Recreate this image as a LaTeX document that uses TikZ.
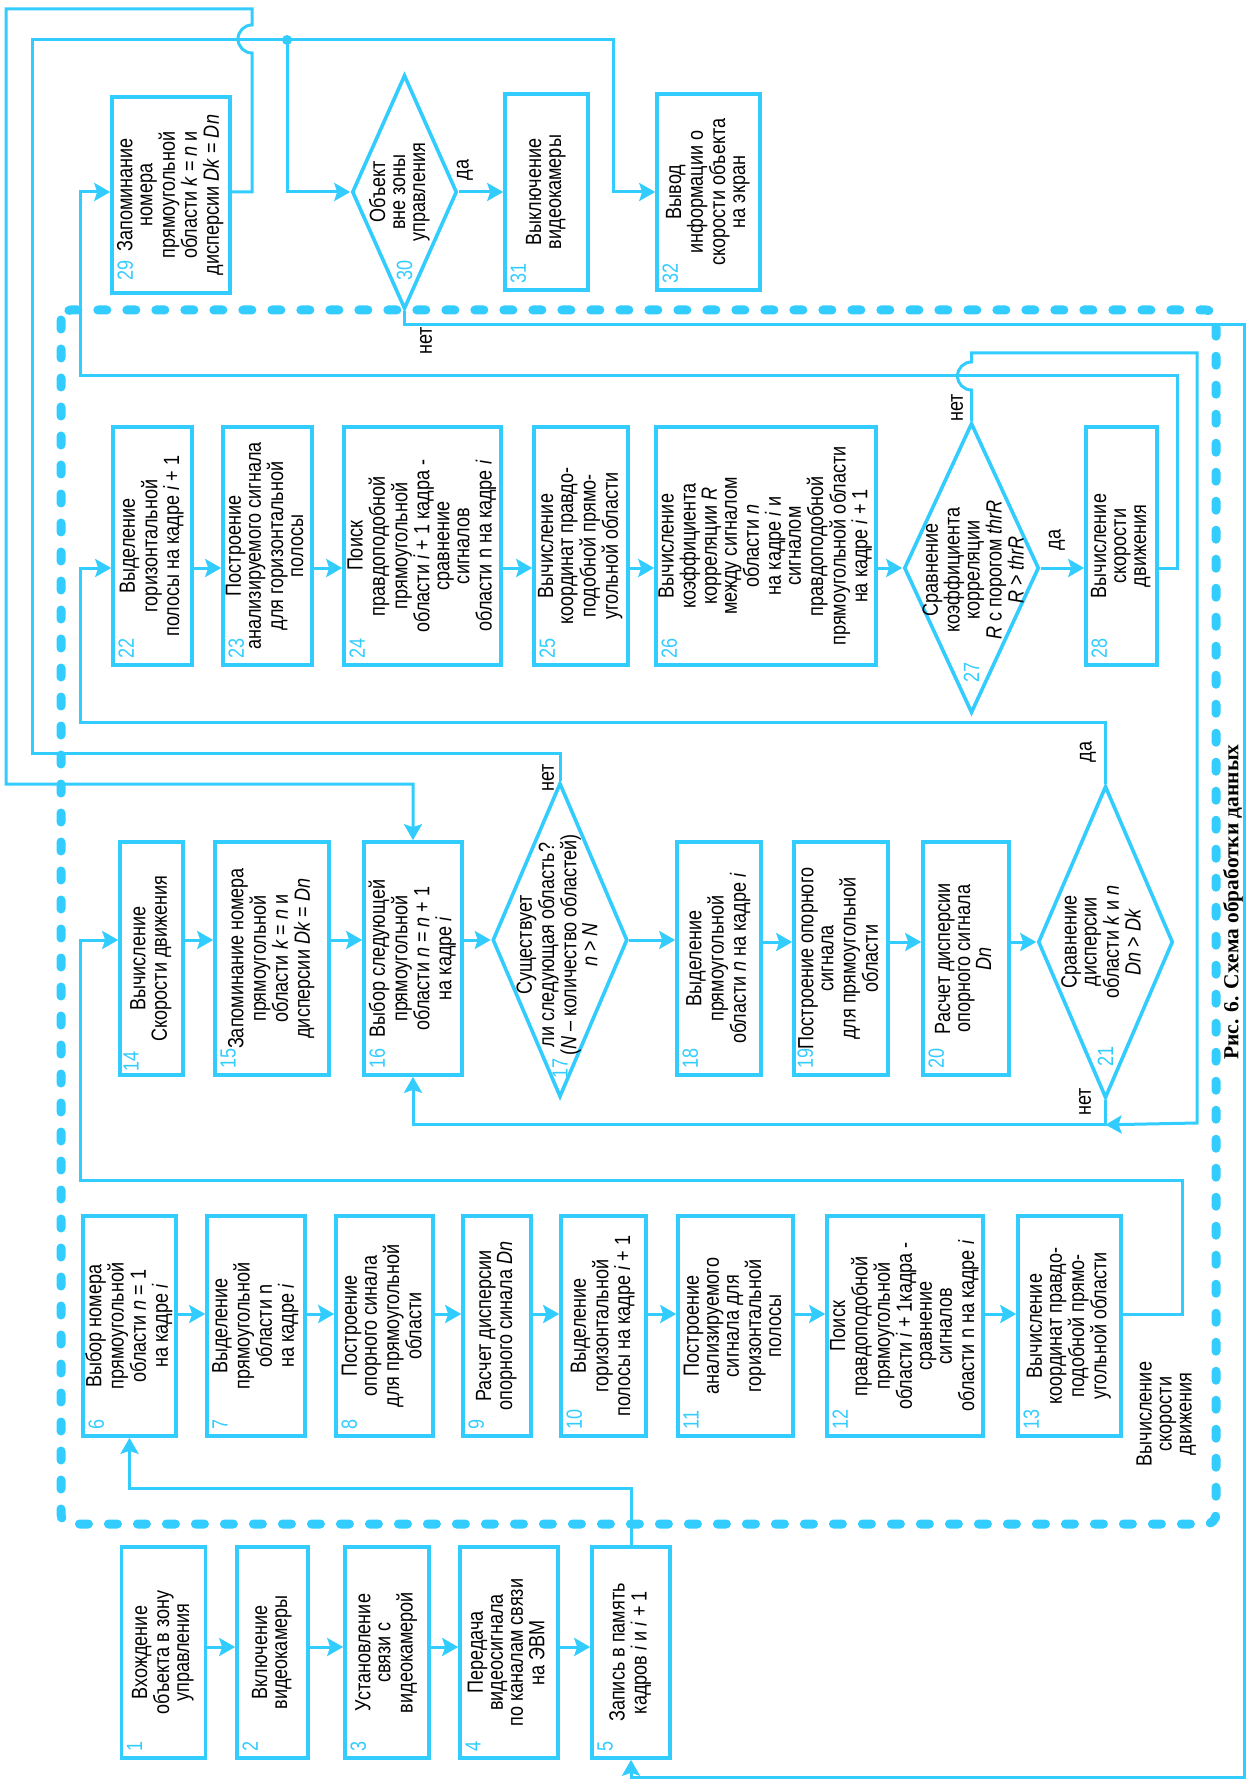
\documentclass[tikz,border=0pt]{standalone}
\usepackage{fontspec}
\setmainfont{Liberation Sans}[FakeStretch=0.82]
\newfontfamily\capfont{Liberation Serif}
\usepackage{graphicx}
\usepackage{tikz}
\usetikzlibrary{arrows.meta,shapes.geometric,calc}
\definecolor{flowblue}{RGB}{51,204,255}
\newcommand{\vtext}[1]{\rotatebox{90}{\begin{tabular}{@{}c@{}}#1\end{tabular}}}
\tikzset{
  box/.style={
    draw=flowblue,
    line width=1.8pt,
    inner sep=1pt,
    font=\fontsize{11}{10}\selectfont
  },
  decision/.style={diamond, draw=flowblue, line width=1.8pt, inner sep=0pt},
  txt/.style={inner sep=0pt, font=\fontsize{11}{10}\selectfont},
  num/.style={txt, text=flowblue},
  wire/.style={draw=flowblue, line width=1.5pt},
  arrow/.style={wire, -{Stealth[length=8pt, width=9pt, inset=1.5pt]}},
  frame/.style={draw=flowblue, line width=4.5pt, line cap=round,
    dash pattern=on 4.5pt off 10pt, rounded corners=5pt}
}

\begin{document}
\begin{tikzpicture}[x=0.5pt, y=-0.5pt]
  \useasboundingbox (0,0) rectangle (1248,1780);
  \draw[frame] (61,310) rectangle (1216,1524);

  % row 5 (top)
  \node[box, minimum width=59pt, minimum height=98pt] (b29) at (171,195) {\vtext{Запоминание\\номера\\прямоугольной\\области \textit{k} = \textit{n} и\\дисперсии \textit{Dk} = \textit{Dn}}};
  \node[decision, minimum width=52.5pt, minimum height=117pt] (d30) at (404.5,192) {};
  \node[txt] (t30) at (400,192) {\vtext{Объект\\вне зоны\\управления}};
  \node[box, minimum width=41.5pt, minimum height=98pt] (b31) at (546.5,192) {\vtext{Выключение\\видеокамеры}};
  \node[box, minimum width=51.5pt, minimum height=98pt] (b32) at (708.5,192) {\vtext{Вывод\\информации о\\скорости объекта\\на экран}};

  % row 4
  \node[box, minimum width=39.5pt, minimum height=119pt] (b22) at (152.5,546) {\vtext{Выделение\\горизонтальной\\полосы на кадре \textit{i} + 1}};
  \node[box, minimum width=44.5pt, minimum height=119pt] (b23) at (267.5,546) {\vtext{Построение\\анализируемого сигнала\\для горизонтальной\\полосы}};
  \node[box, minimum width=78.5pt, minimum height=119pt] (b24) at (422.5,546) {\vtext{Поиск\\правдоподобной\\прямоугольной\\области \textit{i} + 1 кадра -\\сравнение\\сигналов\\области n на кадре \textit{i}}};
  \node[box, minimum width=47pt, minimum height=119pt] (b25) at (581,546) {\vtext{Вычисление\\координат правдо-\\подобной  прямо-\\угольной области}};
  \node[box, minimum width=110pt, minimum height=119pt] (b26) at (766,546) {\vtext{Вычисление\\коэффициента\\корреляции \textit{R}\\между сигналом\\области \textit{n}\\на кадре \textit{i}  и\\сигналом\\правдоподобной\\прямоугольной области\\на кадре \textit{i} + 1}};
  \node[decision, minimum width=67.5pt, minimum height=145pt] (d27) at (971.5,568) {};
  \node[txt] (t27) at (976,570) {\vtext{Сравнение\\коэффициента\\корреляции\\\textit{R} с порогом \textit{thrR}\\\textit{R} > \textit{thrR}}};
  \node[box, minimum width=35.5pt, minimum height=119pt] (b28) at (1121.5,546) {\vtext{Вычисление\\скорости\\движения}};

  % row 3
  \node[box, minimum width=31.5pt, minimum height=116.5pt] (b14) at (151.5,958.5) {\vtext{Вычисление\\Скорости движения}};
  \node[box, minimum width=57pt, minimum height=116.5pt] (b15) at (272,958.5) {\vtext{Запоминание номера\\прямоугольной\\области \textit{k} = \textit{n} и\\дисперсии \textit{Dk} = \textit{Dn}}};
  \node[box, minimum width=49pt, minimum height=116.5pt] (b16) at (413,958.5) {\vtext{Выбор следующей\\прямоугольной\\области \textit{n} = \textit{n} + 1\\на кадре \textit{i}}};
  \node[decision, minimum width=67.5pt, minimum height=157pt] (d17) at (560,940) {};
  \node[txt] (t17) at (560,945) {\vtext{Существует\\ли следующая область?\\(\textit{N} – количество областей)\\\textit{n} > \textit{N}}};
  \node[box, minimum width=42pt, minimum height=116.5pt] (b18) at (719,958.5) {\vtext{Выделение\\прямоугольной\\области \textit{n} на кадре \textit{i}}};
  \node[box, minimum width=47pt, minimum height=116.5pt] (b19) at (841,958.5) {\vtext{Построение опорного\\сигнала\\для прямоугольной\\области}};
  \node[box, minimum width=43pt, minimum height=116.5pt] (b20) at (966,958.5) {\vtext{Расчет дисперсии\\опорного сигнала\\\textit{Dn}}};
  \node[decision, minimum width=67.5pt, minimum height=156pt] (d21) at (1105.5,942) {};
  \node[txt] (t21) at (1104,942) {\vtext{Сравнение\\дисперсии\\области \textit{k} и \textit{n}\\\textit{Dn} > \textit{Dk}}};

  % row 2
  \node[box, minimum width=46.5pt, minimum height=110pt] (b6) at (129.5,1326) {\vtext{Выбор номера\\прямоугольной\\области \textit{n} = 1\\на кадре \textit{i}}};
  \node[box, minimum width=49pt, minimum height=110pt] (b7) at (256,1326) {\vtext{Выделение\\прямоугольной\\области n\\на кадре \textit{i}}};
  \node[box, minimum width=48.5pt, minimum height=110pt] (b8) at (384.5,1326) {\vtext{Построение\\опорного синала\\для прямоугольной\\области}};
  \node[box, minimum width=34pt, minimum height=110pt] (b9) at (497,1326) {\vtext{Расчет дисперсии\\опорного синала \textit{Dn}}};
  \node[box, minimum width=42.5pt, minimum height=110pt] (b10) at (603.5,1326) {\vtext{Выделение\\горизонтальной\\полосы на кадре \textit{i} + 1}};
  \node[box, minimum width=57.5pt, minimum height=110pt] (b11) at (735.5,1326) {\vtext{Построение\\анализируемого\\сигнала для\\горизонтальной\\полосы}};
  \node[box, minimum width=78pt, minimum height=110pt] (b12) at (905,1326) {\vtext{Поиск\\правдоподобной\\прямоугольной\\области \textit{i} + 1кадра -\\сравнение\\сигналов\\области n на кадре \textit{i}}};
  \node[box, minimum width=51.5pt, minimum height=110pt] (b13) at (1069.5,1326) {\vtext{Вычисление\\координат правдо-\\подобной  прямо-\\угольной области}};

  % row 1 (bottom)
  \node[box, minimum width=42pt, minimum height=105.5pt] (b1) at (163.5,1652.5) {\vtext{Вхождение\\объекта в зону\\управления}};
  \node[box, minimum width=35.5pt, minimum height=105.5pt] (b2) at (272.5,1652.5) {\vtext{Включение\\видеокамеры}};
  \node[box, minimum width=42pt, minimum height=105.5pt] (b3) at (387,1652.5) {\vtext{Установление\\связи с\\видеокамерой}};
  \node[box, minimum width=49pt, minimum height=105.5pt] (b4) at (509,1652.5) {\vtext{Передача\\видеосигнала\\по каналам связи\\на ЭВМ}};
  \node[box, minimum width=39pt, minimum height=105.5pt] (b5) at (631,1652.5) {\vtext{Запись в память\\кадров \textit{i} и \textit{i} + 1}};

  % block numbers
  \node[num, anchor=south west] (n1) at ($(b1.south west)+(7,-8)$) {\rotatebox{90}{1}};
  \node[num, anchor=south west] (n2) at ($(b2.south west)+(7,-8)$) {\rotatebox{90}{2}};
  \node[num, anchor=south west] (n3) at ($(b3.south west)+(7,-8)$) {\rotatebox{90}{3}};
  \node[num, anchor=south west] (n4) at ($(b4.south west)+(7,-8)$) {\rotatebox{90}{4}};
  \node[num, anchor=south west] (n5) at ($(b5.south west)+(7,-8)$) {\rotatebox{90}{5}};
  \node[num, anchor=south west] (n6) at ($(b6.south west)+(7,-8)$) {\rotatebox{90}{6}};
  \node[num, anchor=south west] (n7) at ($(b7.south west)+(7,-8)$) {\rotatebox{90}{7}};
  \node[num, anchor=south west] (n8) at ($(b8.south west)+(7,-8)$) {\rotatebox{90}{8}};
  \node[num, anchor=south west] (n9) at ($(b9.south west)+(7,-8)$) {\rotatebox{90}{9}};
  \node[num, anchor=south west] (n10) at ($(b10.south west)+(7,-8)$) {\rotatebox{90}{10}};
  \node[num, anchor=south west] (n11) at ($(b11.south west)+(7,-8)$) {\rotatebox{90}{11}};
  \node[num, anchor=south west] (n12) at ($(b12.south west)+(7,-8)$) {\rotatebox{90}{12}};
  \node[num, anchor=south west] (n13) at ($(b13.south west)+(7,-8)$) {\rotatebox{90}{13}};
  \node[num, anchor=south west] (n14) at ($(b14.south west)+(5,-5)$) {\rotatebox{90}{14}};
  \node[num, anchor=south west] (n15) at ($(b15.south west)+(7,-8)$) {\rotatebox{90}{15}};
  \node[num, anchor=south west] (n16) at ($(b16.south west)+(7,-8)$) {\rotatebox{90}{16}};
  \node[num] (n17) at ($(d17.south)+(0,-30)$) {\rotatebox{90}{17}};
  \node[num, anchor=south west] (n18) at ($(b18.south west)+(7,-8)$) {\rotatebox{90}{18}};
  \node[num, anchor=south west] (n19) at ($(b19.south west)+(5,-8)$) {\rotatebox{90}{19}};
  \node[num, anchor=south west] (n20) at ($(b20.south west)+(7,-8)$) {\rotatebox{90}{20}};
  \node[num] (n21) at ($(d21.south)+(0,-43)$) {\rotatebox{90}{21}};
  \node[num, anchor=south west] (n22) at ($(b22.south west)+(7,-8)$) {\rotatebox{90}{22}};
  \node[num, anchor=south west] (n23) at ($(b23.south west)+(7,-8)$) {\rotatebox{90}{23}};
  \node[num, anchor=south west] (n24) at ($(b24.south west)+(7,-8)$) {\rotatebox{90}{24}};
  \node[num, anchor=south west] (n25) at ($(b25.south west)+(7,-8)$) {\rotatebox{90}{25}};
  \node[num, anchor=south west] (n26) at ($(b26.south west)+(7,-8)$) {\rotatebox{90}{26}};
  \node[num] (n27) at ($(d27.south)+(0,-42)$) {\rotatebox{90}{27}};
  \node[num, anchor=south west] (n28) at ($(b28.south west)+(7,-8)$) {\rotatebox{90}{28}};
  \node[num, anchor=south west] (n29) at ($(b29.south west)+(7,-14)$) {\rotatebox{90}{29}};
  \node[num] (n30) at ($(d30.south)+(0,-40)$) {\rotatebox{90}{30}};
  \node[num, anchor=south west] (n31) at ($(b31.south west)+(7,-8)$) {\rotatebox{90}{31}};
  \node[num, anchor=south west] (n32) at ($(b32.south west)+(7,-8)$) {\rotatebox{90}{32}};

  % branch labels
  \node[txt, rotate=90] (l30y) at (465,170) {да};
  \node[txt, rotate=90] (l30n) at (426,341) {нет};
  \node[txt, rotate=90] (l17n) at (548,778) {нет};
  \node[txt, rotate=90] (l21y) at (1088,752) {да};
  \node[txt, rotate=90] (l21n) at (1085,1102) {нет};
  \node[txt, rotate=90] (l27n) at (957,408) {нет};
  \node[txt, rotate=90] (l27y) at (1057,540) {да};
  \node[txt] (speed) at (1167,1414) {\vtext{Вычисление\\скорости\\движения}};
  \node[rotate=90, inner sep=0pt, font=\capfont\bfseries\fontsize{10.7}{12}\selectfont] (cap) at (1233,902) {Рис. 6. Схема обработки данных};

  \coordinate (row1) at (0,1647);
  \coordinate (row2) at (0,1314);
  \coordinate (j30) at (287,40);
  \coordinate (j21) at ($(d21.south)+(0,25)$);

  % row 1 links
  \draw[arrow] (b1.east |- row1) -- (b2.west |- row1);
  \draw[arrow] (b2.east |- row1) -- (b3.west |- row1);
  \draw[arrow] (b3.east |- row1) -- (b4.west |- row1);
  \draw[arrow] (b4.east |- row1) -- (b5.west |- row1);
  \draw[arrow] (b5.north) -- (631,1488) -| (b6.south);

  % row 2 links
  \draw[arrow] (b6.east |- row2) -- (b7.west |- row2);
  \draw[arrow] (b7.east |- row2) -- (b8.west |- row2);
  \draw[arrow] (b8.east |- row2) -- (b9.west |- row2);
  \draw[arrow] (b9.east |- row2) -- (b10.west |- row2);
  \draw[arrow] (b10.east |- row2) -- (b11.west |- row2);
  \draw[arrow] (b11.east |- row2) -- (b12.west |- row2);
  \draw[arrow] (b12.east |- row2) -- (b13.west |- row2);
  \draw[arrow] (b13.east |- row2) -- (1182,1314) |- (80,1180) |- (b14.west |- d17);

  % row 3 links
  \draw[arrow] (b14.east |- d17) -- (b15.west |- d17);
  \draw[arrow] (b15.east |- d17) -- (b16.west |- d17);
  \draw[arrow] (b16.east |- d17) -- (d17.west);
  \draw[arrow] (d17.east) -- (b18.west |- d17);
  \draw[arrow] (b18.east |- d21) -- (b19.west |- d21);
  \draw[arrow] (b19.east |- d21) -- (b20.west |- d21);
  \draw[arrow] (b20.east |- d21) -- (d21.west);
  \draw[arrow] (d21.north) |- (80,722) |- (b22.west |- d27);
  \draw[arrow] (d21.south) -- (j21) -| (b16.south);
  \draw[wire] (d17.north) |- (32,753) |- (j30);
  \fill[flowblue] (j30) circle[radius=2.5pt];

  % row 4 links
  \draw[arrow] (b22.east |- d27) -- (b23.west |- d27);
  \draw[arrow] (b23.east |- d27) -- (b24.west |- d27);
  \draw[arrow] (b24.east |- d27) -- (b25.west |- d27);
  \draw[arrow] (b25.east |- d27) -- (b26.west |- d27);
  \draw[arrow] (b26.east |- d27) -- (d27.west);
  \draw[arrow] (d27.east) -- (b28.west |- d27);
  \draw[arrow] (b28.east |- d27) -- (1177,568) |- (80,376) |- (b29.west |- d30);
  \draw[arrow] (d27.north) -- (d27.north |- 0,390) arc[start angle=270, end angle=90, radius=7pt]
    -- (d27.north |- 0,353) -| (1197,1123) -- (j21);

  % row 5 links
  \draw[arrow] (j30) |- (d30.west);
  \draw[arrow] (j30) -- (613,40) |- (b32.west);
  \draw[arrow] (d30.east) -- (b31.west |- d30);
  \draw[arrow] (b29.east |- d30) -- (252,192) -- (252,53) arc[start angle=270, end angle=90, radius=7pt]
    -- (252,9) -| (6,784) -| (b16.north);
  \draw[arrow] (d30.south) -- (d30.south |- 0,325) -| (1244,1777) -| (b5.south);
\end{tikzpicture}
\end{document}
